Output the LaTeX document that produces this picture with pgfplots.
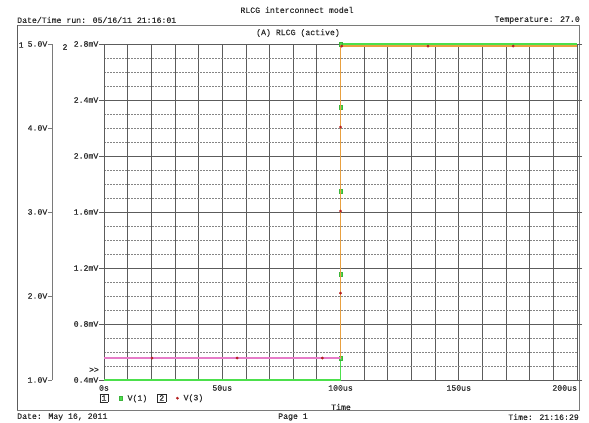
\documentclass[border=0pt]{standalone}
\usepackage{pgfplots}
\pgfplotsset{compat=1.18}
\usepackage{fontspec}
\setmainfont{Liberation Mono}[FakeBold=0.3]
\definecolor{gridc}{HTML}{5C5C5C}
\definecolor{framec}{HTML}{7A7A7A}
\definecolor{txtc}{HTML}{2A2A2A}
\definecolor{vgreen}{HTML}{4CE04C}
\definecolor{mgreen}{HTML}{3CB43C}
\definecolor{vorange}{HTML}{E8A040}
\definecolor{vpink}{HTML}{E67CC8}
\definecolor{vred}{HTML}{B42020}
\newcommand{\bx}[1]{{\setlength{\fboxsep}{0.8pt}\fbox{\kern0.8pt#1\kern0.8pt}}}
\pgfplotsset{ov/.style={at={(104pt,43pt)}, anchor=south west, scale only axis,
  width=473pt, height=336pt, xmin=0, xmax=200, hide axis, clip=false}}
\begin{document}
\begin{tikzpicture}[x=1pt,y=1pt,every node/.style={font=\fontsize{8.2}{9.8}\selectfont, text=txtc}]
\path[use as bounding box] (0,0) rectangle (589,423);
\draw[framec, line width=0.8pt] (17,13) rectangle (579,398);
\draw[gridc, line width=1pt] (17,13) -- (17,398);
\node[inner sep=0pt] at (297,413) {RLCG interconnect model};
\node[inner sep=0pt, anchor=west] at (17,403) {Date/Time run: 05/16/11 21:16:01};
\node[inner sep=0pt, anchor=east] at (580,403) {Temperature: 27.0};
\node[inner sep=0pt] at (298,390) {(A) RLCG (active)};
\node[inner sep=0pt, anchor=west] at (17,6) {Date: May 16, 2011};
\node[inner sep=0pt] at (293,6) {Page 1};
\node[inner sep=0pt, anchor=east] at (579,6) {Time: 21:16:29};
\node[inner sep=0pt, anchor=west] at (18.5,378) {1};
\node[inner sep=0pt] at (65,376) {2};
\node[inner sep=0pt] at (94,53) {{>}{>}};
\node[inner sep=0pt] at (341,16) {Time};
\node[inner sep=0pt] at (104,25) {\bx{1}};

% main axis (axis 2, mV)
\begin{axis}[at={(104pt,43pt)}, anchor=south west, scale only axis,
  width=473pt, height=336pt, xmin=0, xmax=200, ymin=0.4, ymax=2.8,
  axis line style={gridc, line width=0.8pt},
  xtick={0,10,...,200},
  xticklabels={0s,,,,,50us,,,,,100us,,,,,150us,,,,,\llap{200us}},
  ytick={0.4,0.8,1.2,1.6,2.0,2.4,2.8},
  yticklabels={0.4mV,0.8mV,1.2mV,1.6mV,2.0mV,2.4mV,2.8mV},
  minor ytick={0.5,0.6,0.7,0.9,1.0,1.1,1.3,1.4,1.5,1.7,1.8,1.9,2.1,2.2,2.3,2.5,2.6,2.7},
  grid=both,
  major grid style={gridc, line width=0.8pt},
  minor grid style={gridc!75, line width=0.6pt, dash pattern=on 2pt off 1pt},
  tick align=outside, major tick length=5pt, minor tick length=0pt,
  xtick style={draw=none}, ytick style={gridc, line width=0.6pt},
  xticklabel style={inner sep=0pt, font=\fontsize{8.2}{9.8}\selectfont, text=txtc},
  yticklabel style={inner sep=0.5pt, font=\fontsize{8.2}{9.8}\selectfont, text=txtc},
  legend style={draw=none, fill=none, at={(axis description cs:0.0313,-0.054)}, anchor=west,
    legend columns=2, inner sep=0pt, font=\fontsize{8.2}{9.8}\selectfont, text=txtc,
    /tikz/every even column/.append style={column sep=0pt}},
  legend cell align=left,
]
\addlegendimage{only marks, mark=square*, mark size=1.8pt, mark options={fill=vgreen, draw=mgreen}}
\addlegendentry{\rule{3pt}{0pt}V(1)\rule{10pt}{0pt}\bx{2}\rule{8pt}{0pt}}
\addlegendimage{only marks, mark=*, mark size=1.2pt, mark options={fill=vred, draw=vred}}
\addlegendentry{\rule{3pt}{0pt}V(3)}
\end{axis}

% left axis (axis 1, V)
\begin{axis}[at={(52pt,43pt)}, anchor=south west, scale only axis,
  width=10pt, height=336pt, xmin=0, xmax=1, ymin=1, ymax=5,
  axis x line=none, axis y line*=left,
  axis line style={framec, line width=0.7pt},
  ytick={1,2,3,4,5}, yticklabels={1.0V,2.0V,3.0V,4.0V,5.0V},
  tick align=outside, major tick length=4pt,
  ytick style={framec, line width=0.6pt},
  yticklabel style={inner sep=0.5pt, font=\fontsize{8.2}{9.8}\selectfont, text=txtc},
]
\end{axis}

% V(1) on axis 1
\begin{axis}[ov, ymin=1, ymax=5]
\addplot[vgreen, line width=1.6pt] coordinates {(0,1) (100,1) (100,5) (200,5)};
\addplot[only marks, mark=square*, mark size=1.8pt, mark options={fill=vgreen, draw=mgreen}]
  coordinates {(100,1.26) (100,2.26) (100,3.25) (100,4.25) (100,5.0)};
\end{axis}

% V(3) on axis 2
\begin{axis}[ov, ymin=0.4, ymax=2.8]
\addplot[vpink, line width=1.2pt] coordinates {(0,0.557) (100,0.557)};
\addplot[vorange, line width=1.2pt] coordinates {(100,0.557) (100,2.785) (200,2.785)};
\addplot[only marks, mark=*, mark size=1.2pt, mark options={fill=vred, draw=vred}]
  coordinates {(20.3,0.557) (56.3,0.557) (92.3,0.557) (100,1.021) (100,1.607) (100,2.207)
               (100.5,2.785) (137,2.785) (173,2.785)};
\end{axis}
\end{tikzpicture}
\end{document}
